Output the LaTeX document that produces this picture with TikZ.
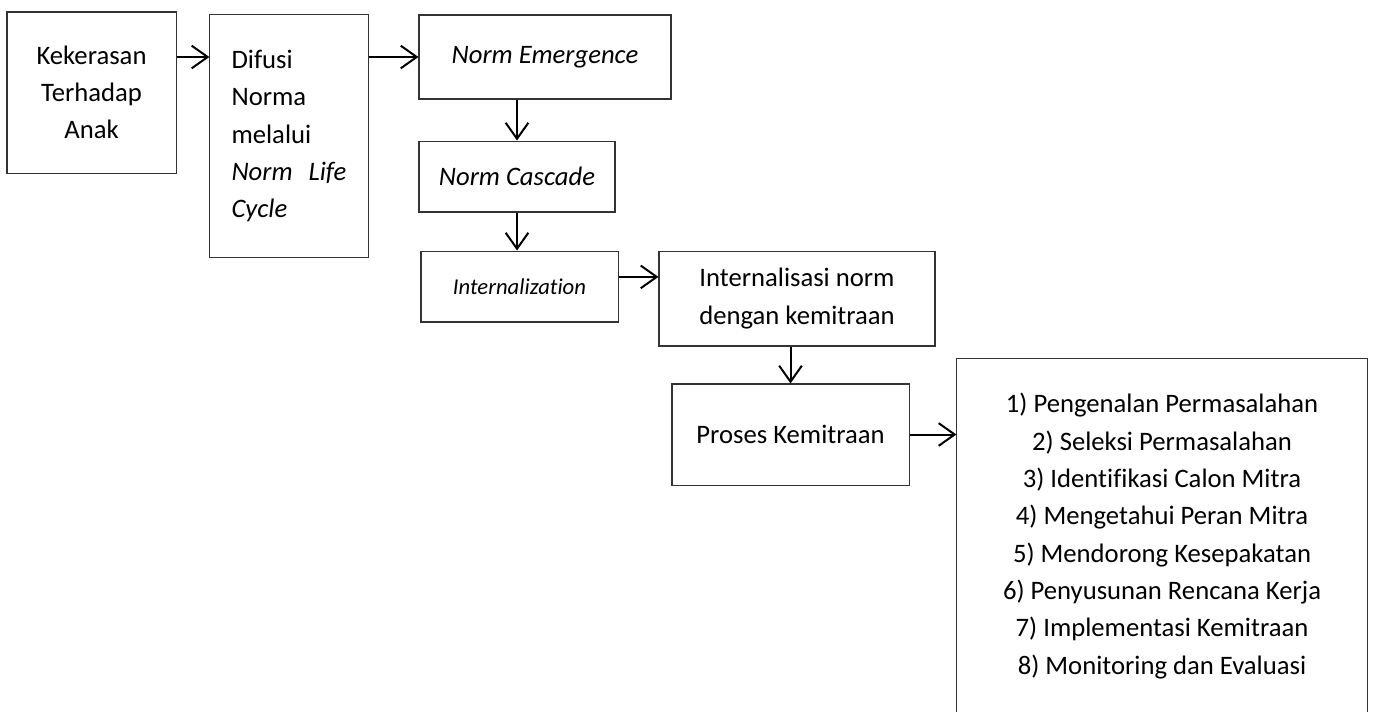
\documentclass[tikz,border=0pt]{standalone}
\usepackage{fontspec}
\setmainfont{Carlito}[Ligatures=CommonOff]
\usetikzlibrary{arrows.meta}

\begin{document}
\begin{tikzpicture}[x=0.375pt,y=-0.375pt]
	\tikzstyle{box node}=[draw=black!80,line width=0.4pt,inner sep=0,align=center,font=\fontsize{10}{14}\selectfont]
	\tikzstyle{flow}=[-{Straight Barb[length=6pt,width=8.5pt]},line width=0.75pt]
	\clip (0,0) rectangle (1373,711);
	\node(kta)[box node,minimum width=63.4pt,minimum height=60.4pt] at (91.5,92.5){Kekerasan\\Terhadap\\Anak};
	\node(difusi)[box node,minimum width=59.3pt,minimum height=90.8pt,text width=43.1pt,align=left] at (289,136)
		{Difusi\\Norma\\melalui\\\textit{Norm}\hfill\textit{Life}\\\textit{Cycle}\\[-4pt]};
	\node(emerg)[box node,minimum width=94.5pt,minimum height=31.5pt] at (545,57){\textit{Norm Emergence}};
	\node(cascade)[box node,minimum width=73.5pt,minimum height=26.6pt] at (517,176.5){\textit{Norm Cascade}};
	\node(intern)[box node,minimum width=73.9pt,minimum height=26.6pt,font=\fontsize{8.5}{11}\selectfont] at (519.5,286.5){\textit{Internalization}};
	\node(intnorm)[box node,minimum width=103.5pt,minimum height=35.6pt] at (797,298.5){Internalisasi norm\\dengan kemitraan};
	\node(proses)[box node,minimum width=88.9pt,minimum height=37.9pt] at (790.5,434.5){Proses Kemitraan};
	\node(langkah)[box node,minimum width=153.8pt,minimum height=132.8pt] at (1162,536)
		{1) Pengenalan Permasalahan\\2) Seleksi Permasalahan\\3) Identifikasi Calon Mitra\\4) Mengetahui Peran Mitra\\
		5) Mendorong Kesepakatan\\6) Penyusunan Rencana Kerja\\7) Implementasi Kemitraan\\8) Monitoring dan Evaluasi};
	\draw[flow](kta.east|-emerg.west)to(difusi.west|-emerg.west);
	\draw[flow](difusi.east|-emerg.west)to(emerg.west);
	\draw[flow](emerg.south-|cascade.north)to(cascade.north);
	\draw[flow](cascade.south)to(cascade.south|-intern.north);
	\draw[flow]([yshift=3.6pt]intern.east)to([yshift=3.6pt]intern.east-|intnorm.west);
	\draw[flow](intnorm.south-|proses.north)to(proses.north);
	\draw[flow](proses.east)to(proses.east-|langkah.west);
\end{tikzpicture}
\end{document}
